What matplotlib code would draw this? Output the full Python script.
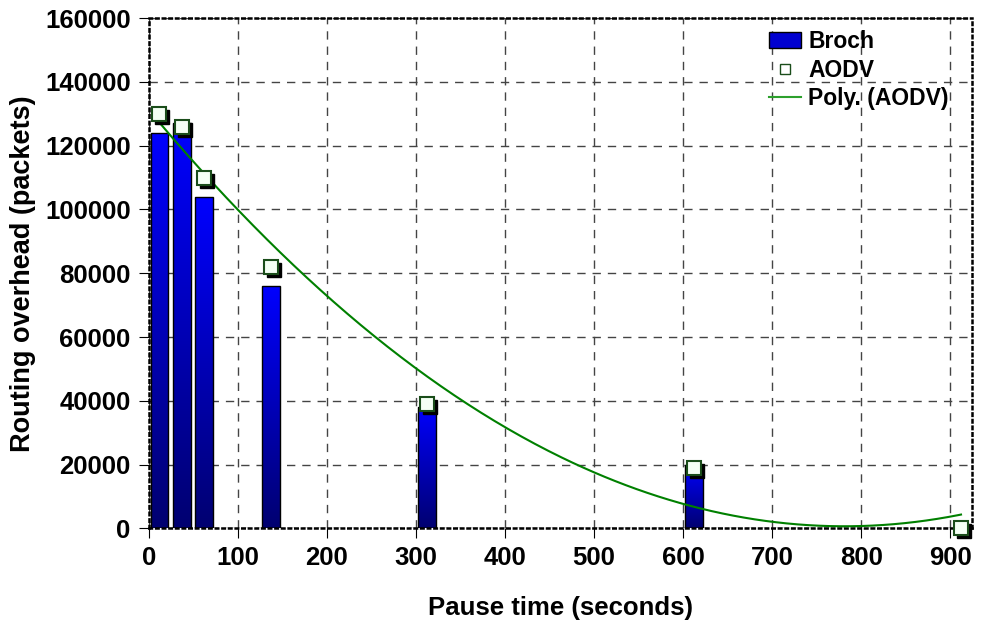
import numpy as np
import matplotlib.pyplot as plt
import matplotlib.transforms as mtransforms
from matplotlib.patches import Patch
from matplotlib.lines import Line2D
from matplotlib.colors import LinearSegmentedColormap

plt.rcParams['font.family'] = ['Liberation Sans', 'DejaVu Sans']
plt.rcParams['font.weight'] = 'bold'

# data
bar_x = [12, 37, 62, 137, 312, 612]
broch = [124000, 127000, 104000, 76000, 38000, 20000]
aodv_x = [12, 37, 62, 137, 312, 612, 912]
aodv = [130000, 126000, 110000, 82000, 39000, 19000, 0]
bar_w = 20

fig = plt.figure(figsize=(9.87, 6.26), dpi=100)
ax = fig.add_axes([0.1507, 0.156, 0.8338, 0.815])

# gradient bars
grad = np.linspace(0, 1, 256).reshape(-1, 1)
cmap = LinearSegmentedColormap.from_list('bl', ['#000070', '#0000ff'])
for x, h in zip(bar_x, broch):
    r = ax.bar(x, h, width=bar_w, facecolor='none', edgecolor='black', linewidth=1.0, zorder=3)[0]
    im = ax.imshow(grad, cmap=cmap, aspect='auto', origin='lower',
                   extent=[x - bar_w / 2, x + bar_w / 2, 0, h], zorder=2)
    im.set_clip_path(r)

# polynomial trend (order 2) of AODV
c = np.polyfit(aodv_x, aodv, 2)
xs = np.linspace(aodv_x[0], aodv_x[-1], 300)
ax.plot(xs, np.polyval(c, xs), color='#008000', lw=1.5, zorder=4)

# markers with shadow
shadow = mtransforms.offset_copy(ax.transData, fig=fig, x=3, y=-3, units='dots')
ax.plot(aodv_x, aodv, 's', ms=9.5, color='black', transform=shadow, zorder=5, clip_on=False)
ax.plot(aodv_x, aodv, 's', ms=9.5, mfc='#f4fff4', mec='#1a4d1a', mew=1.5, zorder=6, clip_on=False)

ax.set_xlim(0, 924)
ax.set_ylim(0, 160000)
ax.set_xticks(range(0, 901, 100))
ax.set_yticks(range(0, 160001, 20000))
ax.tick_params(direction='out', length=7, labelsize=18.5, pad=6)
for lab in ax.get_xticklabels() + ax.get_yticklabels():
    lab.set_fontweight('bold')
ax.grid(True, color='#444444', linestyle=(0, (6, 5)), linewidth=1)
ax.set_axisbelow(True)
for s in ax.spines.values():
    s.set_linestyle(':')
    s.set_linewidth(1.8)
    s.set_color('black')

ax.set_xlabel('Pause time (seconds)', fontsize=18.5, fontweight='bold')
ax.set_ylabel('Routing overhead (packets)', fontsize=19.5, fontweight='bold')
ax.xaxis.set_label_coords(0.5, -0.133)
ax.yaxis.set_label_coords(-0.137, 0.5)

handles = [Patch(facecolor='#0000d0', edgecolor='black', label='Broch'),
           Line2D([], [], marker='s', ls='none', ms=7, mfc='white', mec='#1a4d1a', label='AODV'),
           Line2D([], [], color='#2ca02c', lw=1.5, label='Poly. (AODV)')]
ax.legend(handles=handles, loc='upper right', frameon=False, prop={'size': 16.5, 'weight': 'bold'},
          handlelength=1.4, handletextpad=0.3, labelspacing=0.25, borderaxespad=0.0,
          bbox_to_anchor=(0.983, 0.995))

fig.savefig('out.png', dpi=100)
